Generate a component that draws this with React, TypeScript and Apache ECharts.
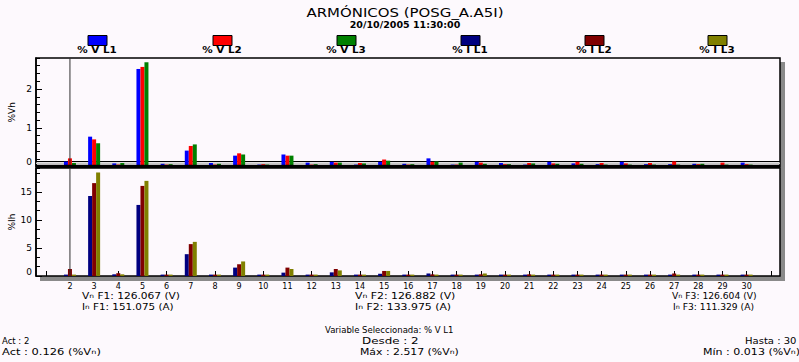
import React, { useEffect, useRef } from 'react';
import * as echarts from 'echarts';

// ---------- data ----------
const harmonics = [2, 3, 4, 5, 6, 7, 8, 9, 10, 11, 12, 13, 14, 15, 16, 17, 18, 19, 20, 21, 22, 23, 24, 25, 26, 27, 28, 29, 30];
const vL1 = [0.126, 0.77, 0.08, 2.517, 0.07, 0.41, 0.09, 0.28, 0.05, 0.31, 0.1, 0.12, 0.05, 0.12, 0.07, 0.21, 0.05, 0.12, 0.09, 0.05, 0.12, 0.08, 0.06, 0.12, 0.06, 0.06, 0.07, 0.013, 0.1];
const vL2 = [0.21, 0.7, 0.05, 2.57, 0.05, 0.53, 0.05, 0.34, 0.06, 0.28, 0.05, 0.1, 0.09, 0.18, 0.05, 0.12, 0.05, 0.1, 0.06, 0.09, 0.08, 0.12, 0.09, 0.08, 0.09, 0.13, 0.06, 0.1, 0.06];
const vL3 = [0.09, 0.6, 0.09, 2.69, 0.06, 0.57, 0.07, 0.31, 0.05, 0.28, 0.06, 0.1, 0.08, 0.15, 0.06, 0.13, 0.1, 0.07, 0.06, 0.08, 0.07, 0.07, 0.05, 0.05, 0.05, 0.05, 0.07, 0.05, 0.05];
const iL1 = [0.25, 14.3, 0.3, 12.7, 0.25, 3.9, 0.25, 1.5, 0.25, 0.6, 0.25, 0.65, 0.25, 0.4, 0.25, 0.45, 0.25, 0.25, 0.25, 0.25, 0.25, 0.25, 0.25, 0.25, 0.25, 0.25, 0.25, 0.25, 0.25];
const iL2 = [1.25, 16.6, 0.5, 16.1, 0.25, 5.7, 0.25, 2.1, 0.25, 1.5, 0.25, 1.25, 0.25, 0.9, 0.25, 0.3, 0.25, 0.3, 0.25, 0.3, 0.25, 0.25, 0.25, 0.25, 0.25, 0.45, 0.25, 0.25, 0.25];
const iL3 = [0.25, 18.5, 0.3, 17.0, 0.25, 6.1, 0.25, 2.6, 0.25, 1.25, 0.25, 1.0, 0.25, 0.9, 0.25, 0.25, 0.25, 0.45, 0.25, 0.25, 0.25, 0.25, 0.25, 0.25, 0.25, 0.25, 0.25, 0.25, 0.25];
const seriesNames = ['% V L1', '% V L2', '% V L3', '% I L1', '% I L2', '% I L3'];
const seriesColors = ['#0000ff', '#ff0000', '#008000', '#000080', '#800000', '#808000'];
const xCategories = ['1', '2', '3', '4', '5', '6', '7', '8', '9', '10', '11', '12', '13', '14', '15', '16', '17', '18', '19', '20', '21', '22', '23', '24', '25', '26', '27', '28', '29', '30', '31'];
const xLabelValues = harmonics;
const selectedHarmonic = '2';
const vMax = 2.8;
const iMax = 19.3;

const titleText = 'ARMÓNICOS (POSG_A.A5I)';
const subtitleText = '20/10/2005 11:30:00';
const footerLines = [
  'V{s|n} F1: 126.067 (V)', 'I{s|n} F1: 151.075 (A)',
  'V{s|n} F2: 126.882 (V)', 'I{s|n} F2: 133.975 (A)',
  'V{s|n} F3: 126.604 (V)', 'I{s|n} F3: 111.329 (A)',
  'Variable Seleccionada: % V L1',
  'Act : 2', 'Desde : 2', 'Hasta : 30',
  'Act : 0.126 (%V{s|n})', 'Máx : 2.517 (%V{s|n})', 'Mín : 0.013 (%V{s|n})',
];

// ---------- layout ----------
const BG = '#fdf9fd';
const FONT = 'DejaVu Sans, Liberation Sans, sans-serif';
const L = 36;          // frame left
const W = 744;         // frame width
const GL = 33.7;       // grid left (category bands)
const GW = 749.2;      // grid width
const T1 = 58;
const H1 = 108.5;
const T2 = 168;
const H2 = 108;
const legendCenters = [97, 222, 346, 470, 594, 717];
const footerPos = [
  [82, 296], [82, 307], [355, 296], [355, 307], [672, 296], [673, 307],
  [325, 330], [2, 341], [362, 341], [745, 341], [2, 352], [360, 352], [703, 352],
];
const footerScale = [1.25, 1.22, 1.28, 1.28, 1.08, 1.08, 1.0, 1.0, 1.4, 1.18, 1.35, 1.28, 1.3];

export default function App() {
  const ref = useRef<HTMLDivElement>(null);
  useEffect(() => {
    if (!ref.current) return;
    const chart = echarts.init(ref.current, null, { renderer: 'svg' });
    const zeroLabel = (pad: number) => ({
      formatter: (v: number) => (v === 0 ? '{z|0}' : String(v)),
      rich: { z: { padding: [0, 0, pad, 0], fontSize: 9, fontFamily: FONT, color: '#000' } },
    });
    const dataSets = [vL1, vL2, vL3, iL1, iL2, iL3];
    const series: any[] = dataSets.map((d, i) => ({
      name: seriesNames[i],
      type: 'bar',
      xAxisIndex: i < 3 ? 0 : 1,
      yAxisIndex: i < 3 ? 0 : 2,
      data: harmonics.map((h, k) => [String(h), d[k]]),
      barWidth: 4,
      barGap: '0%',
      itemStyle: { color: seriesColors[i] },
    }));
    [[0, 0, vMax], [1, 2, iMax]].forEach(([xi, yi, mx]) => {
      series.push({
        name: 'cursor' + xi,
        type: 'line',
        xAxisIndex: xi,
        yAxisIndex: yi,
        data: [[selectedHarmonic, 0], [selectedHarmonic, mx]],
        symbol: 'none',
        silent: true,
        z: 5,
        lineStyle: { color: '#303030', width: 1 },
      });
    });

    const legends = seriesNames.map((n, i) => ({
      data: [n],
      left: legendCenters[i] - 9.5,
      top: 35,
      padding: 0,
      icon: 'rect',
      itemWidth: 19,
      itemHeight: 10,
      itemStyle: { borderColor: '#000', borderWidth: 1 },
      formatter: () => '',
      selectedMode: false,
    }));

    const frame = (y: number, h: number) => ({
      type: 'rect', z: -4, shape: { x: L, y, width: W, height: h },
      style: { fill: BG, stroke: '#000', lineWidth: 1.5 },
    });
    const graphics: any[] = [
      { type: 'rect', z: -5, shape: { x: L + 4, y: T1 + 4, width: W + 1, height: T2 + H2 - T1 + 1 }, style: { fill: '#8a8a8a' } },
      frame(T1, H1),
      frame(T2, H2),
      { type: 'line', z: 1, shape: { x1: L, y1: T1 + H1 - 5, x2: L + W, y2: T1 + H1 - 5 }, style: { stroke: '#000', lineWidth: 1 } },
      { type: 'line', z: 1, shape: { x1: L, y1: T1 + H1 - 3.2, x2: L + W, y2: T1 + H1 - 3.2 }, style: { stroke: '#c8c8c8', lineWidth: 1.5 } },
      { type: 'rect', z: 10, shape: { x: L, y: T1 + H1 - 1.8, width: W, height: 3.3 }, style: { fill: '#000' } },
      { type: 'text', x: 405, y: 12, scaleX: 1.15, style: { text: titleText, fontSize: 13, fontFamily: FONT, fill: '#000', align: 'center', verticalAlign: 'middle' } },
      { type: 'text', x: 405, y: 25, scaleX: 1.12, style: { text: subtitleText, fontSize: 8.5, fontWeight: 'bold', fontFamily: FONT, fill: '#000', align: 'center', verticalAlign: 'middle' } },
      ...seriesNames.map((n, i) => ({
        type: 'text', x: legendCenters[i], y: 50, scaleX: 1.3,
        style: { text: n, fontSize: 8, fontWeight: 'bold', fontFamily: FONT, fill: '#000', align: 'center', verticalAlign: 'middle' },
      })),
      ...footerLines.map((t, i) => ({
        type: 'text', x: footerPos[i][0], y: footerPos[i][1], scaleX: footerScale[i],
        style: {
          text: t, fontSize: 8.5, fontFamily: FONT, fill: '#000', align: 'left', verticalAlign: 'middle',
          rich: { s: { fontSize: 6, fontFamily: FONT, fill: '#000' } },
        },
      })),
    ];

    const xBase = { type: 'category', data: xCategories, boundaryGap: true, splitLine: { show: false } };
    const yMinor = (gi: number, mx: number, iv: number) => ({
      type: 'value', gridIndex: gi, min: 0, max: mx, interval: iv, position: 'left', offset: -(L - GL),
      axisLine: { show: false },
      axisTick: { show: true, inside: true, length: 4, lineStyle: { color: '#000' } },
      axisLabel: { show: false }, splitLine: { show: false },
    });
    const yMajor = (gi: number, mx: number, iv: number, name: string, pad: number) => ({
      type: 'value', gridIndex: gi, min: 0, max: mx, interval: iv, offset: -(L - GL),
      name, nameLocation: 'middle', nameRotate: 90, nameGap: 20, nameMoveOverlap: false,
      nameTextStyle: { fontSize: 9, fontFamily: FONT, color: '#000' },
      axisLine: { show: true, lineStyle: { color: '#000', width: 1.5 } },
      axisTick: { show: true, inside: true, length: 6, lineStyle: { color: '#000' } },
      axisLabel: { show: true, fontSize: 9, margin: 4, color: '#000', fontFamily: FONT, showMaxLabel: false, ...zeroLabel(pad) },
      splitLine: { show: false },
    });
    const gridBase = { show: false, containLabel: false, outerBoundsMode: 'none' };
    const option: any = {
      animation: false,
      backgroundColor: BG,
      textStyle: { fontFamily: FONT, color: '#000' },
      legend: legends,
      grid: [
        { ...gridBase, left: GL, top: T1, width: GW, height: H1 },
        { ...gridBase, left: GL, top: T2, width: GW, height: H2 },
      ],
      xAxis: [
        {
          ...xBase, gridIndex: 0,
          axisLine: { show: false }, axisTick: { show: false }, axisLabel: { show: false },
        },
        {
          ...xBase, gridIndex: 1,
          axisLine: { show: false },
          axisTick: { show: true, inside: true, length: 5, alignWithLabel: true, interval: 0, lineStyle: { color: '#000' } },
          axisLabel: {
            show: true, interval: 0, fontSize: 8, margin: 6, color: '#000', fontFamily: FONT,
            formatter: (v: string) => (xLabelValues.includes(Number(v)) ? v : ''),
          },
        },
      ],
      yAxis: [
        yMajor(0, vMax, 1, '%Vh', 10),
        yMinor(0, vMax, 0.2),
        yMajor(1, iMax, 5, '%Ih', 8),
        yMinor(1, iMax, 5 / 3),
      ],
      graphic: graphics,
      series,
    };
    chart.setOption(option);
    return () => chart.dispose();
  }, []);

  return (
    <div style={{ position: 'fixed', left: 0, top: 0, width: 799, height: 362, background: BG }}>
      <div ref={ref} style={{ width: 799, height: 362 }} />
    </div>
  );
}
